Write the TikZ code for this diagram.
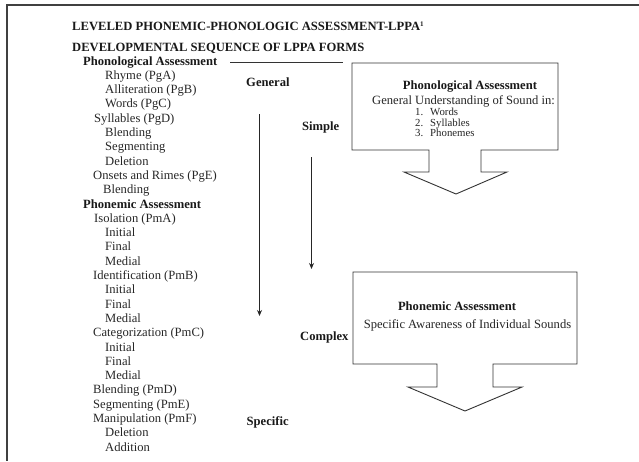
\documentclass[tikz,border=0pt]{standalone}
\usepackage{fontspec}
\setmainfont{Liberation Serif}
\usetikzlibrary{arrows.meta}
\begin{document}
\begin{tikzpicture}[x=1pt,y=-1pt,
  txt/.style={anchor=base west,inner sep=0pt,font=\fontsize{12.6}{14}\selectfont,text=black!85},
  ltxt/.style={anchor=base west,inner sep=0pt,font=\fontsize{10.8}{11}\selectfont,text=black!85},
  btxt/.style={anchor=base west,inner sep=0pt,font=\fontsize{12.6}{14}\selectfont\bfseries,text=black!90},
  ctxt/.style={anchor=base,inner sep=0pt,font=\fontsize{12.6}{14}\selectfont,text=black!85},
  cbtxt/.style={anchor=base,inner sep=0pt,font=\fontsize{12.6}{14}\selectfont\bfseries,text=black!90},
  frameline/.style={draw=black!75,line width=1.4pt},
  rule/.style={draw=black!80,line width=0.9pt},
  arr/.style={draw=black!85,line width=1.6pt,-{Stealth[length=6pt,width=5pt]}},
  callout/.style={draw=black!80,line width=0.9pt,fill=white}
]
\useasboundingbox (0,0) rectangle (639,461);
% frame
\coordinate (ftl) at (7,5);
\coordinate (ftr) at (639,5);
\coordinate (fbl) at (7,461);
\draw[frameline] (ftr) -- (ftl) -- (fbl);

% titles
\node[btxt] (t1) at (72,30.5) {LEVELED PHONEMIC-PHONOLOGIC ASSESSMENT-LPPA\textsuperscript{\fontsize{7}{8}\selectfont 1}};
\node[btxt] (t2) at (72,51) {DEVELOPMENTAL SEQUENCE OF LPPA FORMS};

% left list
\node[btxt] (l0) at (83,65) {Phonological Assessment};
\node[txt] (l1) at (105,79.3) {Rhyme (PgA)};
\node[txt] (l2) at (105,93.6) {Alliteration (PgB)};
\node[txt] (l3) at (105,107.9) {Words (PgC)};
\node[txt] (l4) at (94,122.2) {Syllables (PgD)};
\node[txt] (l5) at (105,136.5) {Blending};
\node[txt] (l6) at (105,150.8) {Segmenting};
\node[txt] (l7) at (105,165.1) {Deletion};
\node[txt] (l8) at (93,179.4) {Onsets and Rimes (PgE)};
\node[txt] (l9) at (103,193.7) {Blending};
\node[btxt] (l10) at (83,208) {Phonemic Assessment};
\node[txt] (l11) at (94,222.3) {Isolation (PmA)};
\node[txt] (l12) at (105,236.6) {Initial};
\node[txt] (l13) at (105,250.9) {Final};
\node[txt] (l14) at (105,265.2) {Medial};
\node[txt] (l15) at (93,279.5) {Identification (PmB)};
\node[txt] (l16) at (105,293.8) {Initial};
\node[txt] (l17) at (105,308.1) {Final};
\node[txt] (l18) at (105,322.4) {Medial};
\node[txt] (l19) at (93,336.7) {Categorization (PmC)};
\node[txt] (l20) at (105,351) {Initial};
\node[txt] (l21) at (105,365.3) {Final};
\node[txt] (l22) at (105,379.6) {Medial};
\node[txt] (l23) at (93,393.9) {Blending (PmD)};
\node[txt] (l24) at (93,408.2) {Segmenting (PmE)};
\node[txt] (l25) at (93,422.5) {Manipulation (PmF)};
\node[txt] (l26) at (105,436.8) {Deletion};
\node[txt] (l27) at (105,451.1) {Addition};

% rule after Phonological Assessment
\coordinate (r1) at (230,62.5);
\coordinate (r2) at (343,62.5);
\draw[rule] (r1) -- (r2);

% scale labels
\node[btxt] (gen) at (246,86.5) {General};
\node[btxt] (sim) at (302,130) {Simple};
\node[btxt] (com) at (300,340.7) {Complex};
\node[btxt] (spe) at (246.5,425.5) {Specific};

% arrows
\coordinate (a1s) at (259.5,114);
\coordinate (a1e) at (259.5,316);
\draw[arr] (a1s) -- (a1e);
\coordinate (a2s) at (311.5,157);
\coordinate (a2e) at (311.5,269);
\draw[arr] (a2s) -- (a2e);

% callout 1
\draw[callout] (352,63) -- (558,63) -- (558,150) -- (481,150) -- (481,172) -- (507,172)
  -- (456,194) -- (404,172) -- (429,172) -- (429,150) -- (352,150) -- cycle;
\node[cbtxt] (c1h) at (470,89.3) {Phonological Assessment};
\node[ctxt] (c1s) at (463.5,104.3) {General Understanding of Sound in:};
\node[ltxt] (c1n1) at (415,115.5) {1.};
\node[ltxt] (c1w1) at (430,115.5) {Words};
\node[ltxt] (c1n2) at (415,126) {2.};
\node[ltxt] (c1w2) at (430,126) {Syllables};
\node[ltxt] (c1n3) at (415,136.5) {3.};
\node[ltxt] (c1w3) at (430,136.5) {Phonemes};

% callout 2
\draw[callout] (353,272) -- (577,272) -- (577,364) -- (493,364) -- (493,387) -- (522,387)
  -- (465,411) -- (408,387) -- (437,387) -- (437,364) -- (353,364) -- cycle;
\node[cbtxt] (c2h) at (457,310.7) {Phonemic Assessment};
\node[ctxt] (c2s) at (467.5,328.3) {Specific Awareness of Individual Sounds};
\end{tikzpicture}
\end{document}
